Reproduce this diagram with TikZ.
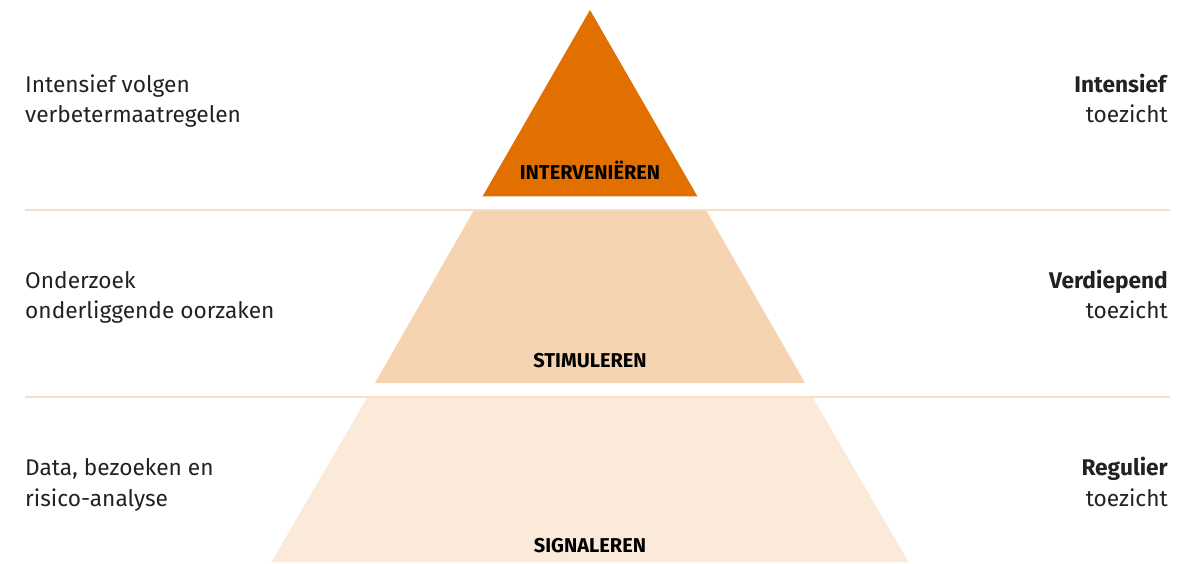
\documentclass[tikz,border=0pt]{standalone}
\usepackage{fontspec}
\setmainfont{Fira Sans}
\usepackage{tikz}

\definecolor{oranje}{HTML}{E17000}
\definecolor{oranjemidden}{HTML}{F6D4B2}
\definecolor{oranjelicht}{HTML}{FBE9D9}
\definecolor{lijnkleur}{HTML}{F9DEC4}
\definecolor{tekstkleur}{HTML}{222222}

\tikzset{
	laag/.style={font=\fontsize{20}{24}\selectfont\bfseries, text=black, inner sep=0pt},
	linkstekst/.style={font=\fontsize{22.7}{30.5}\selectfont, text=tekstkleur, align=left, anchor=base west, inner sep=0pt},
	rechtstekst/.style={font=\fontsize{22.7}{30.5}\selectfont, text=tekstkleur, align=right, anchor=base east, inner sep=0pt}
}

\begin{document}
\begin{tikzpicture}[x=1pt, y=-1pt]
			\useasboundingbox (0,0) rectangle (1192,564);

			% Dibujar las lineas horizontales
			\draw[lijnkleur, line width=2pt] (25,210) -- (1170,210);
			\draw[lijnkleur, line width=2pt] (25,397) -- (1170,397);

			% Dibujar la piramide
			\fill[oranjelicht] (367,398) -- (813,398) -- (908.5,562) -- (271.5,562) -- cycle;
			\fill[oranjemidden] (473.5,211) -- (706.5,211) -- (805,383) -- (375,383) -- cycle;
			\fill[oranje] (590,10) -- (697.5,196.5) -- (482.5,196.5) -- cycle;

			% Niveaus
			\node[laag, anchor=base] (intervenieren) at (590,180) {INTERVENIËREN};
			\node[laag, anchor=base] (stimuleren) at (590,367) {STIMULEREN};
			\node[laag, anchor=base] (signaleren) at (590,552) {SIGNALEREN};

			% Texto a la izquierda (base = ultima linea)
			\node[linkstekst] (volgen) at (25,123) {Intensief volgen\\verbetermaatregelen};
			\node[linkstekst] (onderzoek) at (25,319) {Onderzoek\\onderliggende oorzaken};
			\node[linkstekst] (data) at (25,506) {Data, bezoeken en\\risico-analyse};

			% Texto a la derecha
			\node[rechtstekst] (intensief) at (1168,123) {\textbf{Intensief}\\toezicht};
			\node[rechtstekst] (verdiepend) at (1168,319) {\textbf{Verdiepend}\\toezicht};
			\node[rechtstekst] (regulier) at (1168,506) {\textbf{Regulier}\\toezicht};
		\end{tikzpicture}
\end{document}
